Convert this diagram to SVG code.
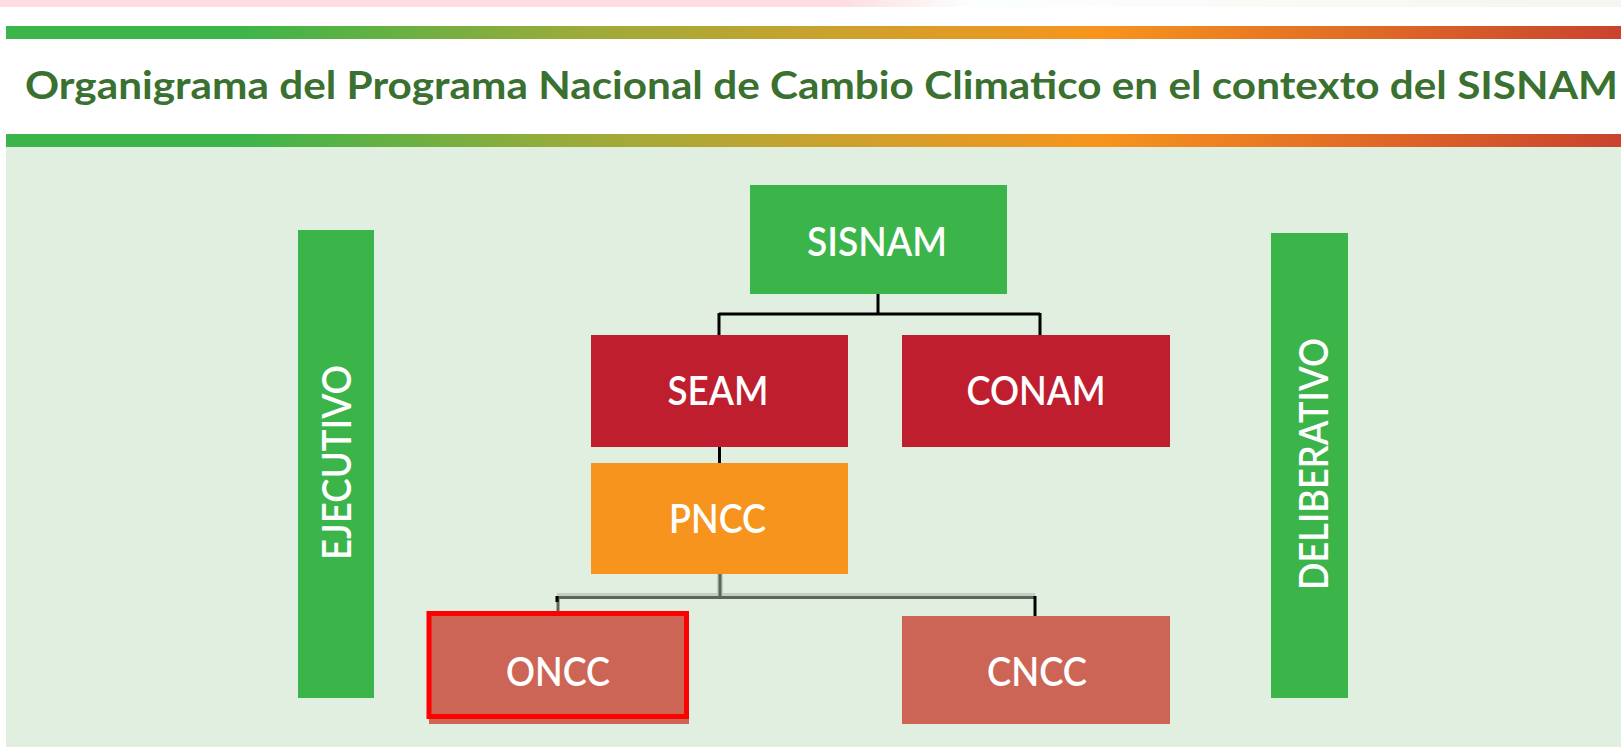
<svg xmlns="http://www.w3.org/2000/svg" width="1621" height="747" viewBox="0 0 1621 747">
<defs>
<linearGradient id="bar" gradientUnits="userSpaceOnUse" x1="6" y1="0" x2="1621" y2="0">
<stop offset="0" stop-color="#3bb54a"/>
<stop offset="0.142" stop-color="#3bb54a"/>
<stop offset="0.352" stop-color="#9aab3a"/>
<stop offset="0.504" stop-color="#c9a22e"/>
<stop offset="0.676" stop-color="#f7941d"/>
<stop offset="1" stop-color="#c9432e"/>
</linearGradient>
<linearGradient id="pink" gradientUnits="userSpaceOnUse" x1="0" y1="0" x2="1621" y2="0">
<stop offset="0" stop-color="#fddde0"/>
<stop offset="0.52" stop-color="#fddde0"/>
<stop offset="0.6" stop-color="#fbfffd"/>
<stop offset="1" stop-color="#f6f5ef"/>
</linearGradient>
</defs>
<style>
.lbl{font-family:Lato,"Open Sans","Liberation Sans",sans-serif;font-size:40px;font-weight:600;fill:#ffffff;text-anchor:middle}
.title{font-family:Lato,"Open Sans","Liberation Sans",sans-serif;font-size:39px;font-weight:bold;fill:#3a7030}
.green{fill:#3bb54a}
.red{fill:#be1e2e}
.orange{fill:#f7941d}
.salmon{fill:#cd6556}
.blk{stroke:#000;stroke-width:3;fill:none}
.gray{stroke:#5c665c;stroke-width:3;fill:none}
.halo{stroke:#c3d0c1;stroke-width:6;fill:none}
</style>
<rect x="0" y="0" width="1621" height="747" fill="#ffffff"/>
<rect x="0" y="0" width="1621" height="7" fill="url(#pink)"/>
<rect x="6" y="26" width="1615" height="13" fill="url(#bar)"/>
<rect x="6" y="134" width="1615" height="13" fill="url(#bar)"/>
<rect x="6" y="147" width="1615" height="600" fill="#e0efdf"/>
<text class="title" x="25" y="99" textLength="1593" lengthAdjust="spacingAndGlyphs">Organigrama del Programa Nacional de Cambio Climatico en el contexto del SISNAM</text>

<g id="connectors">
<path class="blk" d="M878 294 V314 M719 314 H1040 M719 313 V335 M1040 313 V335"/>
<path class="blk" d="M719.5 447 V463"/>
<path class="halo" d="M720 574 V596 M557 596 H1035"/>
<path class="gray" d="M720 574 V598 M557 597.5 H1035 M558 597 V611"/>
<path class="blk" d="M557 596 V602 M1035 596 V616"/>
</g>

<g id="ejecutivo">
<rect class="green" x="298" y="230" width="76" height="468"/>
<text class="lbl" transform="translate(351 462.5) rotate(-90)" x="0" y="0" textLength="195" lengthAdjust="spacingAndGlyphs">EJECUTIVO</text>
</g>
<g id="deliberativo">
<rect class="green" x="1271" y="233" width="77" height="465"/>
<text class="lbl" transform="translate(1328 464) rotate(-90)" x="0" y="0" textLength="252" lengthAdjust="spacingAndGlyphs">DELIBERATIVO</text>
</g>
<g id="sisnam">
<rect class="green" x="750" y="185" width="257" height="109"/>
<text class="lbl" x="877" y="256" textLength="140" lengthAdjust="spacingAndGlyphs">SISNAM</text>
</g>
<g id="seam">
<rect class="red" x="591" y="335" width="257" height="112"/>
<text class="lbl" x="718" y="405" textLength="101" lengthAdjust="spacingAndGlyphs">SEAM</text>
</g>
<g id="conam">
<rect class="red" x="902" y="335" width="268" height="112"/>
<text class="lbl" x="1036" y="405" textLength="139" lengthAdjust="spacingAndGlyphs">CONAM</text>
</g>
<g id="pncc">
<rect class="orange" x="591" y="463" width="257" height="111"/>
<text class="lbl" x="717.5" y="533" textLength="97" lengthAdjust="spacingAndGlyphs">PNCC</text>
</g>
<g id="oncc">
<rect class="salmon" x="429" y="613" width="260" height="111"/>
<rect x="429" y="613.5" width="257.5" height="103" fill="none" stroke="#ff0000" stroke-width="5"/>
<text class="lbl" x="558" y="686" textLength="104" lengthAdjust="spacingAndGlyphs">ONCC</text>
</g>
<g id="cncc">
<rect class="salmon" x="902" y="616" width="268" height="108"/>
<text class="lbl" x="1037" y="686" textLength="100" lengthAdjust="spacingAndGlyphs">CNCC</text>
</g>
</svg>
